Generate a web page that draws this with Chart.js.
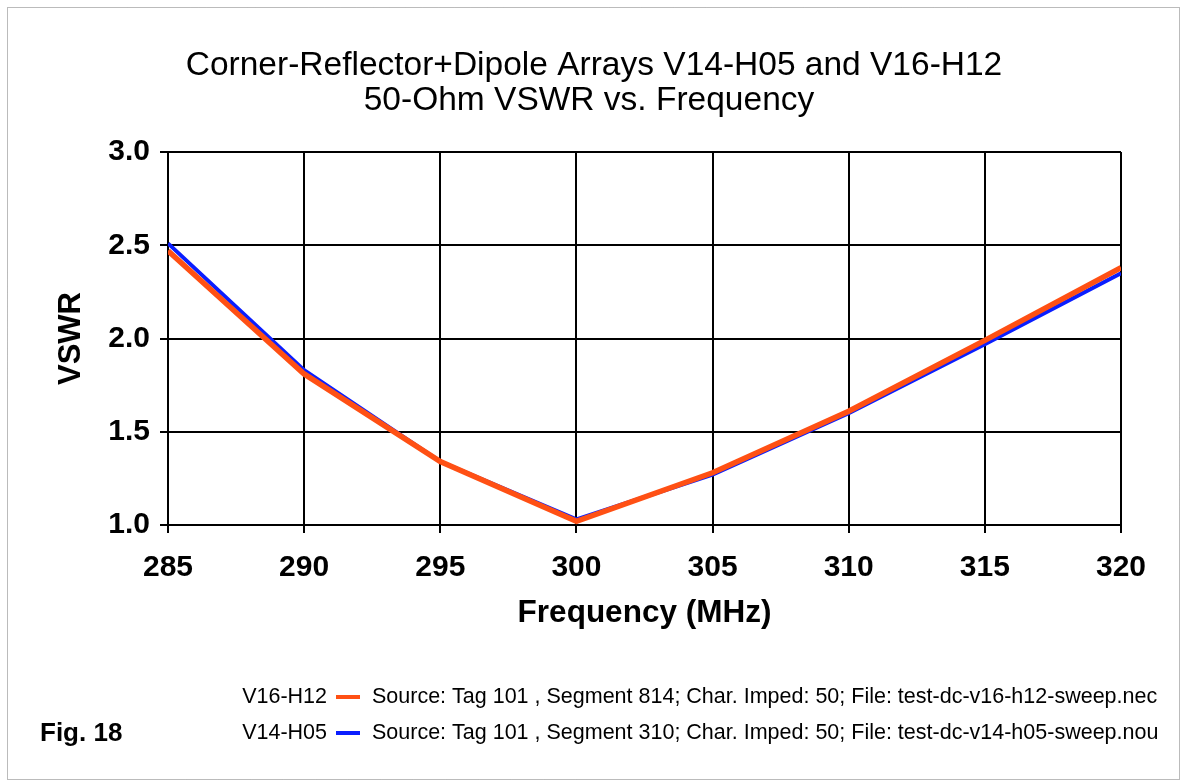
<!DOCTYPE html>
<html>
<head>
<meta charset="utf-8">
<script src="https://cdn.jsdelivr.net/npm/chart.js@4.4.0/dist/chart.umd.min.js"></script>
<style>
  html, body { margin: 0; padding: 0; background: #fff; }
  #wrap { width: 1183px; height: 783px; }
</style>
</head>
<body>
<div id="wrap"><canvas id="grafica" width="1183" height="783"></canvas></div>
<script>
// frequencies in MHz
var frecuencias = [285, 290, 295, 300, 305, 310, 315, 320];
// 50-ohm VSWR for each array
var vswrV16H12 = [2.47, 1.81, 1.34, 1.02, 1.28, 1.61, 1.99, 2.38];
var vswrV14H05 = [2.51, 1.83, 1.34, 1.03, 1.27, 1.60, 1.97, 2.35];

var nombresSeries = ['V16-H12', 'V14-H05'];
var descripciones = [
    'Source: Tag 101 , Segment 814; Char. Imped: 50; File: test-dc-v16-h12-sweep.nec',
    'Source: Tag 101 , Segment 310; Char. Imped: 50; File: test-dc-v14-h05-sweep.nou'
];
var coloresSeries = ['#ff5014', '#0a1eff'];

var tituloLineas = ['Corner-Reflector+Dipole Arrays V14-H05 and V16-H12', '50-Ohm VSWR vs. Frequency'];
var etiquetaFigura = 'Fig. 18';

function puntos(valores) {
    return frecuencias.map(function (f, i) { return { x: f, y: valores[i] }; });
}

// frame, title (centred on the whole page), legend rows and figure label
var extras = {
    id: 'extras',
    afterDraw: function (chart) {
        var ctx = chart.ctx;
        ctx.save();
        ctx.strokeStyle = '#777';
        ctx.lineWidth = 1;
        ctx.setLineDash([1, 1]);
        ctx.strokeRect(7.5, 7.5, 1172, 772);
        ctx.setLineDash([]);

        ctx.fillStyle = '#000';
        ctx.textBaseline = 'middle';
        ctx.textAlign = 'center';
        ctx.font = '33.5px "Liberation Sans", Arial, sans-serif';
        ctx.fillText(tituloLineas[0], 594, 66);
        ctx.fillText(tituloLineas[1], 589, 101);

        ctx.font = 'bold 26px "Liberation Sans", Arial, sans-serif';
        ctx.textAlign = 'left';
        ctx.fillText(etiquetaFigura, 40, 734);

        ctx.beginPath();
        ctx.rect(0, 660, 1157, 100);
        ctx.clip();
        ctx.font = '21.5px "Liberation Sans", Arial, sans-serif';
        var filas = [697, 733];
        for (var i = 0; i < nombresSeries.length; i++) {
            var y = filas[i];
            ctx.fillStyle = '#000';
            ctx.textAlign = 'right';
            ctx.fillText(nombresSeries[i], 327, y);
            ctx.strokeStyle = coloresSeries[i];
            ctx.lineWidth = 4;
            ctx.beginPath();
            ctx.moveTo(336, y);
            ctx.lineTo(360, y);
            ctx.stroke();
            ctx.textAlign = 'left';
            ctx.fillText(descripciones[i], 372, y);
        }
        ctx.restore();
    }
};

var ctx = document.getElementById('grafica').getContext('2d');
var grafica = new Chart(ctx, {
    type: 'line',
    data: {
        datasets: [{
            label: nombresSeries[0],
            data: puntos(vswrV16H12),
            borderColor: coloresSeries[0],
            borderWidth: 5.5,
            pointRadius: 0,
            tension: 0
        }, {
            label: nombresSeries[1],
            data: puntos(vswrV14H05),
            borderColor: coloresSeries[1],
            borderWidth: 4,
            pointRadius: 0,
            tension: 0
        }]
    },
    options: {
        responsive: false,
        animation: false,
        layout: { padding: { left: 8, right: 62, top: 152, bottom: 147 } },
        plugins: {
            legend: { display: false },
            tooltip: { enabled: false },
            title: { display: false }
        },
        scales: {
            x: {
                type: 'linear',
                min: 285,
                max: 320,
                ticks: {
                    stepSize: 5,
                    color: '#000',
                    padding: 17,
                    maxRotation: 0,
                    font: { family: '"Liberation Sans", Arial, sans-serif', size: 30, weight: 'bold' }
                },
                grid: { color: '#000', lineWidth: 2, tickLength: 8 },
                border: { color: '#000', width: 2 },
                title: {
                    display: true,
                    text: 'Frequency (MHz)',
                    color: '#000',
                    padding: 4,
                    font: { family: '"Liberation Sans", Arial, sans-serif', size: 31.5, weight: 'bold' }
                },
                afterFit: function (scale) { scale.height = 111; }
            },
            y: {
                min: 1.0,
                max: 3.0,
                ticks: {
                    stepSize: 0.5,
                    color: '#000',
                    padding: 10,
                    font: { family: '"Liberation Sans", Arial, sans-serif', size: 30, weight: 'bold' },
                    callback: function (v) { return v.toFixed(1); }
                },
                grid: { color: '#000', lineWidth: 2, tickLength: 8 },
                border: { color: '#000', width: 2 },
                title: {
                    display: true,
                    text: 'VSWR',
                    color: '#000',
                    padding: { top: 45, bottom: 0 },
                    font: { family: '"Liberation Sans", Arial, sans-serif', size: 31, weight: 'bold' }
                },
                afterFit: function (scale) { scale.width = 160; }
            }
        }
    },
    plugins: [extras]
});
</script>
</body>
</html>
